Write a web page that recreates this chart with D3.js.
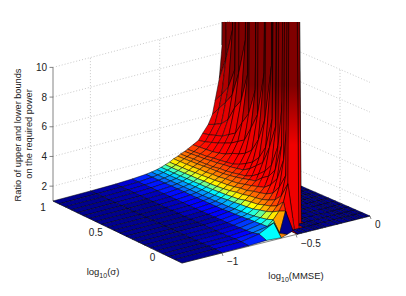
<!DOCTYPE html>
<html>
<head>
<meta charset="utf-8">
<script src="https://cdn.jsdelivr.net/npm/d3@7"></script>
<style>
    html, body { margin: 0; padding: 0; background: #fff; }
    text { font-family: "Liberation Sans", Arial, sans-serif; fill: #222; }
</style>
</head>
<body>
<script>
var xGrid = [-1.27, -1, -0.82, -0.7, -0.6, -0.56, -0.52, -0.49, -0.46, -0.43, -0.4, -0.37, -0.35, -0.32, -0.3, -0.26, -0.22, -0.19, -0.15, -0.12, -0.1, -0.07, -0.05, -0.02, 0];
var sigmaGrid = [1, 0.94, 0.88, 0.82, 0.76, 0.7, 0.64, 0.58, 0.52, 0.46, 0.4, 0.34, 0.28, 0.22, 0.16, 0.1, 0.04, -0.02, -0.08, -0.14, -0.2, -0.27];

// ratio, one row per sigma, one column per xGrid entry
var ratioRows = [
    [1,1.01,1.03,1.08,1.15,1.2,1.27,1.35,1.45,1.55,1.7,1.8,1.9,2,2.1,2.3,2.5,2.9,3.4,4,4.9,6.3,8.5,60,1],
    [1,1.01,1.03,1.07,1.15,1.2,1.27,1.35,1.45,1.56,1.71,1.82,1.92,2.03,2.13,2.34,2.6,3,3.6,4.6,5.5,7.8,60,1,1],
    [1,1.01,1.03,1.07,1.14,1.19,1.26,1.35,1.45,1.57,1.72,1.85,1.95,2.07,2.17,2.38,2.75,3.15,3.85,5.2,6.2,10,60,1,1],
    [1,1.01,1.03,1.07,1.14,1.19,1.26,1.35,1.46,1.58,1.74,1.87,1.97,2.1,2.2,2.42,2.9,3.3,4.3,5.9,7.6,60,1,1,1],
    [1,1.01,1.02,1.07,1.14,1.19,1.27,1.37,1.48,1.62,1.77,1.91,1.99,2.16,2.28,2.52,3.1,3.6,5.3,7.6,60,1,1,1,1],
    [1,1,1.02,1.06,1.14,1.19,1.27,1.37,1.49,1.64,1.78,1.95,2.02,2.2,2.33,2.65,3.3,3.9,6,10,60,1,1,1,1],
    [1,1,1.02,1.06,1.14,1.19,1.28,1.39,1.52,1.68,1.83,1.97,2.1,2.28,2.4,2.9,3.6,4.8,8,60,1,1,1,1,1],
    [1,1,1.02,1.06,1.13,1.19,1.28,1.39,1.53,1.7,1.85,2,2.13,2.33,2.47,3.05,3.9,5.6,60,1,1,1,1,1,1],
    [1,1,1.02,1.05,1.13,1.19,1.29,1.42,1.56,1.75,1.92,2.07,2.2,2.42,2.65,3.3,4.9,7.4,60,1,1,1,1,1,1],
    [1,1,1.02,1.05,1.13,1.2,1.3,1.45,1.6,1.78,1.95,2.15,2.3,2.52,2.9,3.7,6,60,1,1,1,1,1,1,1],
    [1,1,1.02,1.05,1.13,1.2,1.33,1.48,1.66,1.85,2.01,2.25,2.38,2.8,3.2,4.6,9,60,1,1,1,1,1,1,1],
    [1,1,1.01,1.05,1.14,1.22,1.38,1.53,1.75,1.95,2.13,2.38,2.58,3.2,3.7,6.2,60,1,1,1,1,1,1,1,1],
    [1,1,1.01,1.05,1.14,1.23,1.41,1.57,1.8,1.99,2.24,2.48,2.9,3.6,4.6,10,60,1,1,1,1,1,1,1,1],
    [1,1,1.01,1.06,1.18,1.27,1.47,1.68,1.91,2.13,2.38,2.9,3.3,4.8,6.7,60,1,1,1,1,1,1,1,1,1],
    [1,1.01,1.02,1.07,1.2,1.3,1.5,1.75,1.97,2.23,2.52,3.2,3.9,6.5,60,1,1,1,1,1,1,1,1,1,1],
    [1,1.01,1.02,1.08,1.22,1.33,1.55,1.8,2.05,2.35,2.9,3.8,5.4,60,1,1,1,1,1,1,1,1,1,1,1],
    [1,1.01,1.03,1.1,1.27,1.38,1.68,1.95,2.2,2.6,3.5,5.7,10,60,1,1,1,1,1,1,1,1,1,1,1],
    [1,1.02,1.04,1.12,1.3,1.46,1.78,2.07,2.42,3.2,5,60,1,1,1,1,1,1,1,1,1,1,1,1,1],
    [1,1.02,1.05,1.15,1.33,1.55,1.95,2.28,2.9,4.2,10,60,1,1,1,1,1,1,1,1,1,1,1,1,1],
    [1,1.03,1.07,1.18,1.36,1.72,2.2,2.75,3.9,60,1,1,1,1,1,1,1,1,1,1,1,1,1,1,1],
    [1,1.03,1.08,1.3,1.8,1,2.4,1,1,1,1,1,1,1,1,1,1,1,1,1,1,1,1,1,1],
    [1,1.01,1.04,1.1,1.03,1.15,1.3,1,1,1,1,1,1,1,1,1,1,1,1,1,1,1,1,1,1]
];

var xTicks = [-1, -0.5, 0];
var sigmaTicks = [1, 0.5, 0];
var sigmaLabelShift = [[-10, 10], [-8, 11], [-2, 11]];
var zTicks = [2, 4, 6, 8, 10];

var width = 406, height = 296;

// the floor is a slightly skewed quad, so back and front edges get their own scales
var backX = d3.scaleLinear().domain([-1.27, 0]).range([53, 229]);
var backY = d3.scaleLinear().domain([-1.27, 0]).range([201, 154.6]);
var frontX = d3.scaleLinear().domain([-1.27, 0]).range([182, 370]);
var frontY = d3.scaleLinear().domain([-1.27, 0]).range([263, 216]);
var depth = d3.scaleLinear().domain([1, -0.27]).range([0, 1]);
var lift = d3.scaleLinear().domain([1, 10]).range([0, -133.6]);

var jet = d3.scaleLinear()
    .domain([1, 1.05, 1.15, 1.3, 1.4, 1.5, 1.8, 2.4, 4, 7])
    .range(["#00008f", "#0000ff", "#0070ff", "#00ffff", "#80ff80", "#ffff00", "#ff8000", "#ff0000", "#e00000", "#800000"])
    .clamp(true);

function project(x, s, z) {
    var v = depth(s);
    return [
        backX(x) + (frontX(x) - backX(x)) * v,
        backY(x) + (frontY(x) - backY(x)) * v + lift(z)
    ];
}

var svg = d3.select("body").append("svg")
    .attr("width", width)
    .attr("height", height)
    .style("display", "block");

var defs = svg.append("defs");

defs.append("clipPath").attr("id", "top-cut")
    .append("rect")
    .attr("x", 0)
    .attr("y", 22)
    .attr("width", width)
    .attr("height", height - 22);

// the tall faces next to the wall run through many colours, so they fade by height
var wallFade = defs.append("linearGradient")
    .attr("id", "wall-fade")
    .attr("gradientUnits", "userSpaceOnUse")
    .attr("x1", 0).attr("x2", 0)
    .attr("y1", 145).attr("y2", 85);
wallFade.append("stop").attr("offset", 0).attr("stop-color", "#f00000");
wallFade.append("stop").attr("offset", 1).attr("stop-color", "#800000");

function drawWalls() {
    var g = svg.append("g")
        .attr("fill", "none")
        .attr("stroke", "#bbb")
        .attr("stroke-width", 0.8)
        .attr("stroke-dasharray", "1,2");

    function wallLine(a, b) {
        g.append("path").attr("d", d3.line()([a, b]));
    }

    zTicks.forEach(function (z) {
        wallLine(project(-1.27, 1, z), project(0, 1, z));
        wallLine(project(0, 1, z), project(0, -0.27, z));
    });
    xTicks.forEach(function (x) {
        wallLine(project(x, 1, 1), project(x, 1, 10));
    });
    sigmaTicks.forEach(function (s) {
        wallLine(project(0, s, 1), project(0, s, 10));
    });
}

function drawAxes() {
    var g = svg.append("g").attr("stroke", "#666").attr("stroke-width", 0.8).attr("fill", "none");

    g.append("path").attr("d", d3.line()([project(-1.27, 1, 1), project(-1.27, 1, 10)]));
    g.append("path").attr("d", d3.line()([project(-1.27, -0.27, 1), project(0, -0.27, 1)]));
    g.append("path").attr("d", d3.line()([project(-1.27, 1, 1), project(-1.27, -0.27, 1)]));

    zTicks.forEach(function (z) {
        var p = project(-1.27, 1, z);
        g.append("path").attr("d", d3.line()([p, [p[0] - 3.5, p[1]]]));
        svg.append("text")
            .attr("x", p[0] - 6)
            .attr("y", p[1] + 3.5)
            .attr("text-anchor", "end")
            .attr("font-size", 10)
            .text(z);
    });

    xTicks.forEach(function (x) {
        var p = project(x, -0.27, 1);
        g.append("path").attr("d", d3.line()([p, [p[0] + 1, p[1] + 3]]));
        svg.append("text")
            .attr("x", p[0] + 5)
            .attr("y", p[1] + 12)
            .attr("font-size", 10)
            .text(x < 0 ? "\u2212" + Math.abs(x) : x);
    });

    sigmaTicks.forEach(function (s, i) {
        var p = project(-1.27, s, 1);
        svg.append("text")
            .attr("x", p[0] + sigmaLabelShift[i][0])
            .attr("y", p[1] + sigmaLabelShift[i][1])
            .attr("text-anchor", "middle")
            .attr("font-size", 10)
            .text(s);
    });
}

function drawSurface() {
    var g = svg.append("g")
        .attr("clip-path", "url(#top-cut)")
        .attr("stroke", "#000")
        .attr("stroke-width", 0.5)
        .attr("stroke-linejoin", "round");

    // painter's order, far corner first
    var r, c, quad, zs;
    for (r = 0; r < sigmaGrid.length - 1; r++) {
        for (c = xGrid.length - 2; c >= 0; c--) {
            zs = [ratioRows[r][c], ratioRows[r][c + 1], ratioRows[r + 1][c + 1], ratioRows[r + 1][c]];
            quad = [
                project(xGrid[c], sigmaGrid[r], zs[0]),
                project(xGrid[c + 1], sigmaGrid[r], zs[1]),
                project(xGrid[c + 1], sigmaGrid[r + 1], zs[2]),
                project(xGrid[c], sigmaGrid[r + 1], zs[3])
            ];
            g.append("path")
                .attr("d", d3.line()(quad) + "Z")
                .attr("fill", d3.max(zs) >= 60 ? "url(#wall-fade)" : jet(zs[0]));
        }
    }
}

function drawLabels() {
    svg.append("text")
        .attr("transform", "translate(21,135) rotate(-90)")
        .attr("text-anchor", "middle")
        .attr("font-size", 9.2)
        .text("Ratio of upper and lower bounds");
    svg.append("text")
        .attr("transform", "translate(32,134) rotate(-90)")
        .attr("text-anchor", "middle")
        .attr("font-size", 9.2)
        .text("on the required power");

    function logLabel(cx, cy, inner) {
        var t = svg.append("text")
            .attr("x", cx)
            .attr("y", cy)
            .attr("text-anchor", "middle")
            .attr("font-size", 9.5);
        t.append("tspan").text("log");
        t.append("tspan").attr("font-size", 7).attr("dy", 3).text("10");
        t.append("tspan").attr("dy", -3).text("(" + inner + ")");
    }
    logLabel(103, 275, "\u03c3");
    logLabel(296, 279, "MMSE");
}

drawWalls();
drawAxes();
drawSurface();
drawLabels();
</script>
</body>
</html>
